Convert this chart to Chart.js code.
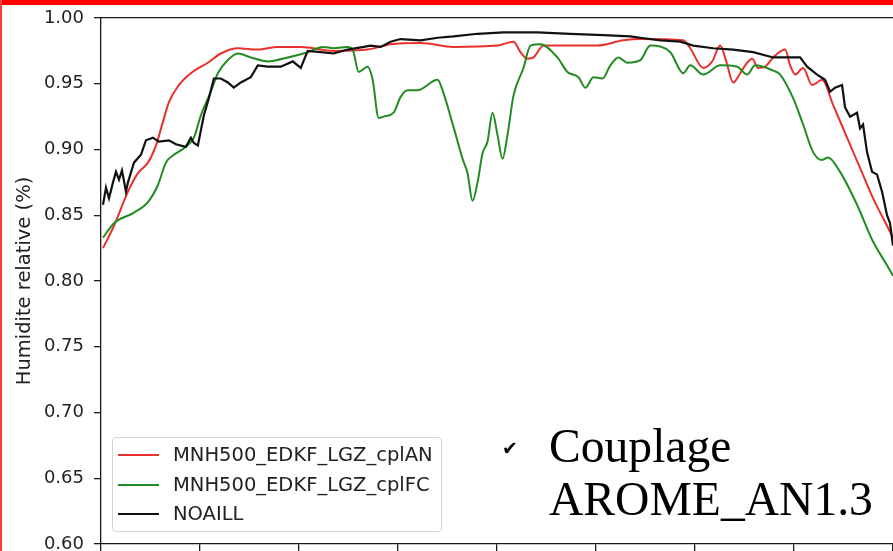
<!DOCTYPE html>
<html>
<head>
<meta charset="utf-8">
<script src="https://cdn.jsdelivr.net/npm/chart.js@4/dist/chart.umd.min.js"></script>
<style>
  html, body { margin: 0; padding: 0; background: #fff; width: 893px; height: 551px; overflow: hidden; }
  #wrap { position: absolute; left: 0; top: 0; width: 893px; height: 551px; }
  #c { position: absolute; left: 0; top: 0; }
  #topbar { position: absolute; left: 0; top: 0; width: 893px; height: 5px; background: #ff0000; }
  #leftbar { position: absolute; left: 0; top: 0; width: 2px; height: 551px; background: #ff3b3b; }
  #legend { position: absolute; left: 112px; top: 437px; width: 330px; height: 95px; border: 1px solid #d4d4d4; border-radius: 4px; background: rgba(255,255,255,0.85); box-sizing: border-box; }
  .row { position: absolute; left: 0; height: 22px; width: 100%; }
  .sw { position: absolute; left: 5px; top: 10px; width: 41px; height: 2px; }
  .lab { position: absolute; left: 60px; top: 0; font: 19.5px "DejaVu Sans"; color: #222; line-height: 22px; white-space: nowrap; }
  .note { position: absolute; font-family: "Liberation Serif", serif; font-size: 47.6px; line-height: 48px; color: #000; white-space: nowrap; }
  #check { position: absolute; left: 502px; top: 437px; font: 19px "DejaVu Sans"; line-height: 22px; color: #000; }
</style>
</head>
<body>
<div id="wrap">
  <canvas id="c" width="893" height="551"></canvas>
  <div id="topbar"></div>
  <div id="leftbar"></div>
  <div id="legend"></div>
  <div id="check">✔</div>
  <div class="note" style="left:549px; top:422px;">Couplage</div>
  <div class="note" style="left:549px; top:475px;">AROME_AN1.3</div>
</div>
<script>
// ---- data (x in axis units, 100 per major tick) ----
const seriesLabels = ["MNH500_EDKF_LGZ_cplAN", "MNH500_EDKF_LGZ_cplFC", "NOAILL"];
const seriesColors = ["#e8302c", "#228b22", "#111111"];
const yTickMin = 0.60, yTickMax = 1.00, yTickStep = 0.05;
const xTickStep = 100, xMin = 0, xMax = 793;

const redX = [2,13,27,37,47,55,62,68,78,90,107,120,137,157,177,200,233,267,290,320,353,397,413,420,427,433,443,470,497,523,540,583,590,603,612,620,626,633,640,645,652,658,665,673,685,690,695,703,712,722,733,747,760,773,787,793];
const redY = [0.825,0.842,0.868,0.882,0.890,0.903,0.921,0.936,0.949,0.958,0.966,0.973,0.977,0.976,0.978,0.978,0.975,0.976,0.980,0.981,0.978,0.979,0.982,0.974,0.969,0.970,0.979,0.979,0.979,0.983,0.984,0.983,0.977,0.962,0.967,0.979,0.967,0.951,0.958,0.964,0.969,0.962,0.963,0.970,0.976,0.964,0.957,0.962,0.949,0.953,0.934,0.909,0.886,0.863,0.842,0.833];

const greenX = [2,13,33,47,57,65,73,83,93,100,110,117,127,137,150,167,187,207,222,233,247,252,258,267,272,278,283,293,300,307,317,337,342,353,362,367,372,377,382,387,392,397,402,407,413,423,430,440,457,467,478,485,493,502,510,518,527,540,550,570,583,590,603,620,637,647,655,673,680,693,703,713,722,728,740,757,773,787,793];
const greenY = [0.833,0.844,0.852,0.860,0.873,0.890,0.896,0.901,0.909,0.926,0.944,0.958,0.968,0.973,0.970,0.967,0.970,0.974,0.978,0.977,0.978,0.976,0.959,0.963,0.953,0.924,0.925,0.928,0.940,0.945,0.945,0.953,0.945,0.917,0.893,0.882,0.861,0.875,0.897,0.906,0.928,0.911,0.893,0.911,0.941,0.962,0.979,0.980,0.970,0.959,0.955,0.947,0.955,0.954,0.964,0.970,0.966,0.968,0.979,0.974,0.958,0.964,0.957,0.964,0.963,0.957,0.964,0.960,0.957,0.939,0.919,0.898,0.892,0.894,0.883,0.858,0.830,0.812,0.804];

const blackX = [2,5,8,12,15,18,21,25,27,33,40,45,52,58,68,75,85,90,93,97,103,108,113,120,127,133,140,150,157,167,180,192,200,207,220,233,247,263,270,280,290,300,320,337,353,377,403,437,470,503,530,540,560,580,593,613,633,653,673,687,700,707,717,725,730,735,742,745,750,757,760,763,767,772,777,782,787,790,793];
const blackY = [0.858,0.871,0.863,0.875,0.883,0.877,0.884,0.868,0.875,0.890,0.896,0.907,0.909,0.906,0.907,0.904,0.902,0.909,0.905,0.903,0.926,0.939,0.954,0.954,0.951,0.947,0.951,0.955,0.964,0.963,0.963,0.967,0.962,0.975,0.974,0.973,0.976,0.978,0.979,0.978,0.982,0.984,0.983,0.985,0.986,0.988,0.989,0.989,0.988,0.987,0.986,0.985,0.983,0.982,0.979,0.977,0.976,0.974,0.970,0.970,0.970,0.963,0.957,0.953,0.944,0.947,0.949,0.932,0.925,0.928,0.916,0.919,0.898,0.883,0.881,0.868,0.850,0.844,0.827];

const xs = [redX, greenX, blackX];
const ys = [redY, greenY, blackY];
const tensions = [0.4, 0.4, 0];
const widths = [2, 2, 2.2];
const orders = [2, 1, 0];

const datasets = seriesLabels.map((lab, i) => ({
  label: lab,
  data: xs[i].map((x, k) => ({ x: x, y: ys[i][k] })),
  borderColor: seriesColors[i],
  borderWidth: widths[i],
  pointRadius: 0,
  fill: false,
  tension: tensions[i],
  cubicInterpolationMode: i < 2 ? 'monotone' : 'default',
  order: orders[i]
}));

// HTML legend from the same arrays
const leg = document.getElementById('legend');
seriesLabels.forEach((lab, i) => {
  const row = document.createElement('div');
  row.className = 'row';
  row.style.top = (6 + i * 29.5) + 'px';
  const sw = document.createElement('div');
  sw.className = 'sw';
  sw.style.background = seriesColors[i];
  const t = document.createElement('div');
  t.className = 'lab';
  t.textContent = lab;
  row.appendChild(sw); row.appendChild(t);
  leg.appendChild(row);
});

const axisColor = '#1a1a1a';
new Chart(document.getElementById('c'), {
  type: 'line',
  data: { datasets },
  options: {
    responsive: false,
    animation: false,
    devicePixelRatio: 1,
    layout: { padding: { top: 18, left: 0, right: 0, bottom: 0 } },
    plugins: { legend: { display: false }, tooltip: { enabled: false } },
    scales: {
      x: {
        type: 'linear', position: 'bottom', min: xMin, max: xMax,
        ticks: { stepSize: xTickStep, includeBounds: false, display: false },
        grid: { drawOnChartArea: false, drawTicks: true, tickLength: 7, color: axisColor, lineWidth: 1.3 },
        border: { display: true, color: axisColor, width: 1.3 },
        afterFit: (s) => { s.height = 7; s.paddingLeft = 0; s.paddingRight = 0; }
      },
      xTop: {
        type: 'linear', position: 'top', min: xMin, max: xMax,
        ticks: { display: false },
        grid: { drawOnChartArea: false, drawTicks: false },
        border: { display: true, color: axisColor, width: 1.3 },
        afterFit: (s) => { s.height = 0; }
      },
      y: {
        type: 'linear', min: yTickMin, max: yTickMax,
        ticks: {
          stepSize: yTickStep, padding: 10, color: '#222',
          font: { family: 'DejaVu Sans', size: 18 },
          callback: (v) => v.toFixed(2)
        },
        grid: { drawOnChartArea: false, tickLength: 7, color: axisColor, lineWidth: 1.3 },
        border: { display: true, color: axisColor, width: 1.3 },
        title: {
          display: true, text: 'Humidite relative (%)', color: '#222',
          font: { family: 'DejaVu Sans', size: 19.5 },
          padding: { top: 13, bottom: 0 }
        },
        afterFit: (s) => { s.width = 101; s.paddingTop = 0; s.paddingBottom = 0; }
      }
    }
  }
});
</script>
</body>
</html>
